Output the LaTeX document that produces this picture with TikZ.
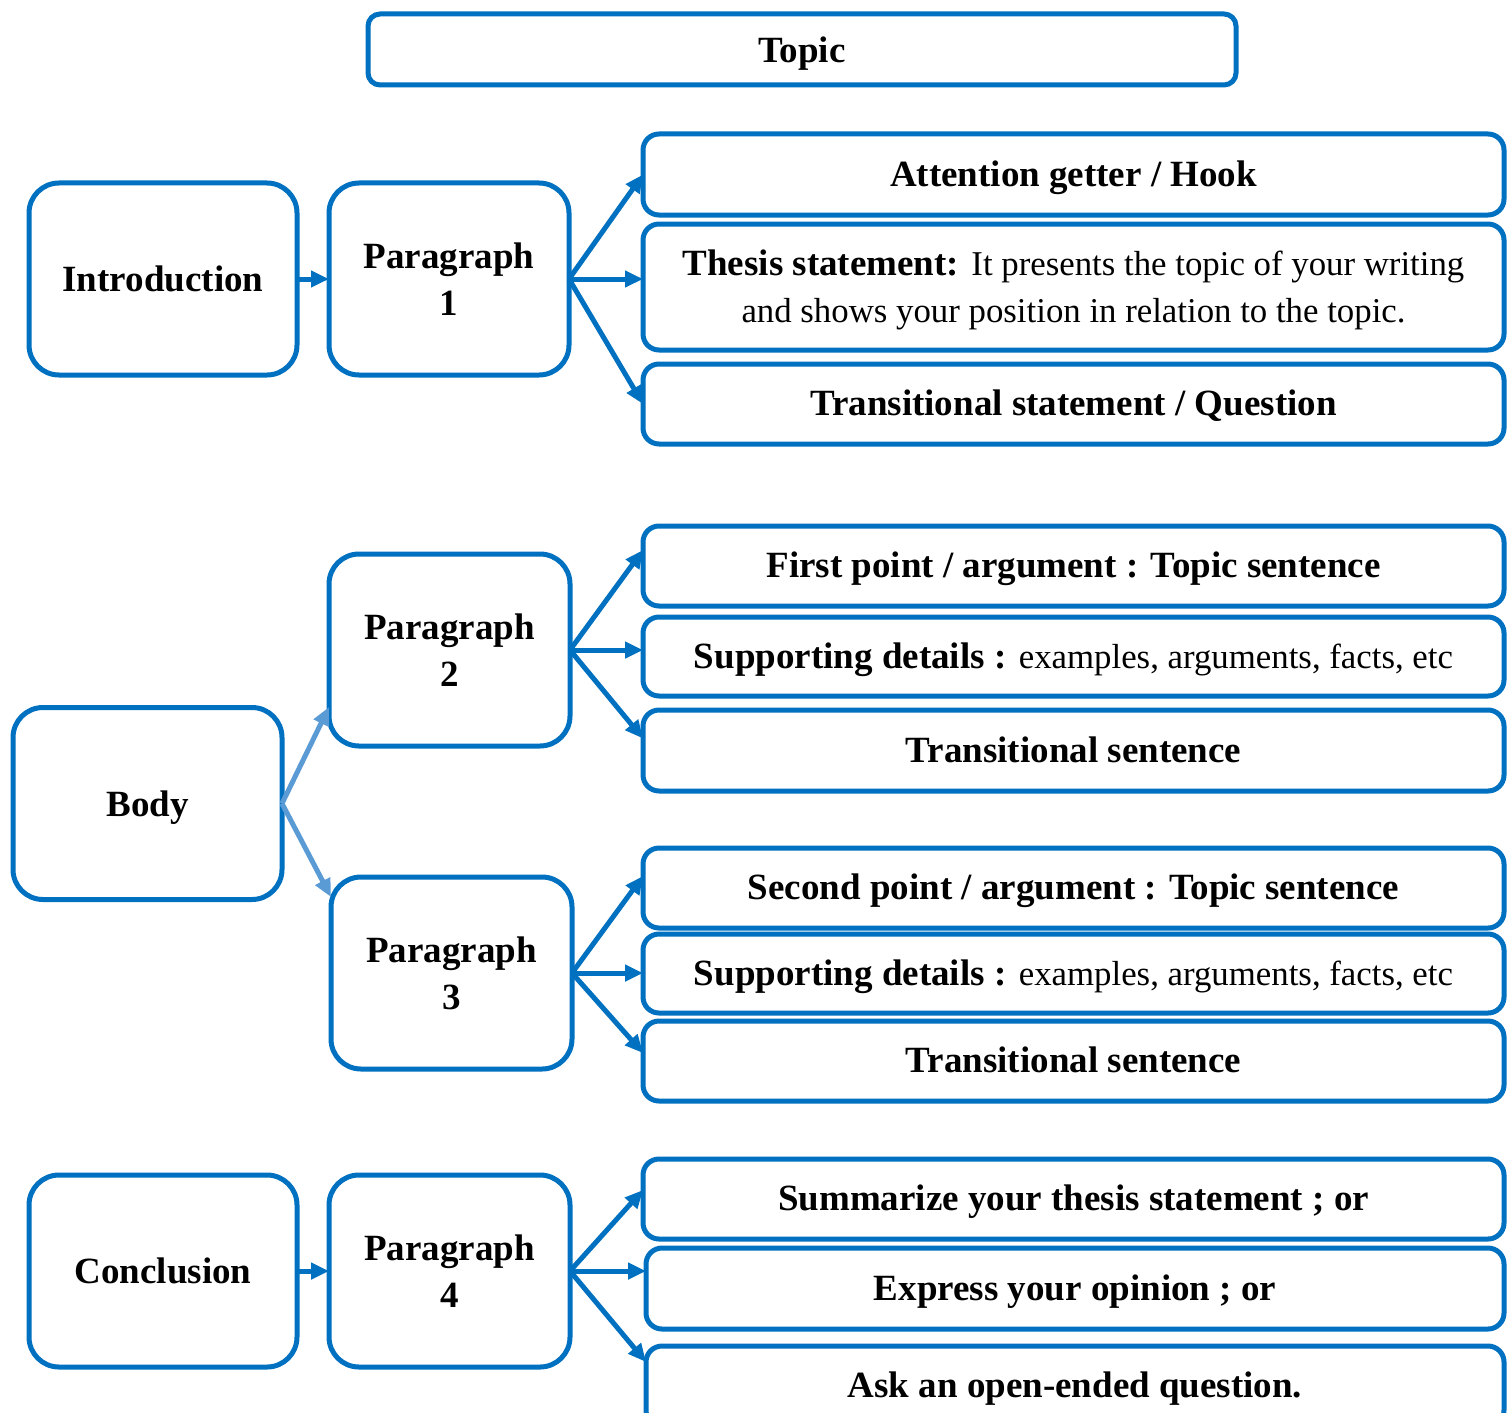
\documentclass[tikz,border=0pt]{standalone}
\usepackage{fontspec}
\setmainfont{Liberation Serif}
\usetikzlibrary{arrows.meta,calc}
\definecolor{mblue}{HTML}{0070C0}
\definecolor{lblue}{HTML}{5B9BD5}
\newcommand{\rg}[1]{{\fontsize{17.4pt}{23.5pt}\selectfont\mdseries #1}}
\begin{document}
\begin{tikzpicture}[x=0.5pt,y=-0.5pt,
  every node/.style={inner sep=0pt,outer sep=0pt},
  base/.style={draw=mblue,line width=2.5pt,fill=white,align=center,
    font=\fontsize{18.5pt}{23.5pt}\selectfont\bfseries,text depth=1pt},
  bigbox/.style={base,rounded corners=15pt,minimum width=#1*0.5pt,minimum height=96pt,text depth=-4pt},
  longbox/.style={base,rounded corners=8pt,minimum width=430.5pt,minimum height=#1*0.5pt},
  arr/.style={draw=mblue,line width=2.5pt,-{Triangle[length=9pt,width=8pt]}},
  larr/.style={draw=lblue,line width=2.5pt,-{Triangle[length=9pt,width=8pt]}}]
\useasboundingbox (0,0) rectangle (1507,1412);
\clip (0,0) rectangle (1507,1412);
% title
\node[base,rounded corners=6pt,minimum width=434pt,minimum height=35.5pt,text depth=-2pt] (topic) at (802,49.5) {Topic};
% introduction
\node[bigbox=268] (intro) at (163,279) {Introduction};
\node[bigbox=240] (p1) at (449,279) {Paragraph\\1};
\node[longbox=81] (a1) at (1073.5,174.5) {Attention getter / Hook};
\node[longbox=126] (a2) at (1073.5,287) {Thesis statement: \rg{It presents the topic of your writing}\\\rg{and shows your position in relation to the topic.}};
\node[longbox=80] (a3) at (1073.5,404) {Transitional statement / Question};
% body
\node[bigbox=269] (body) at (147.5,803.5) {Body};
\node[bigbox=241] (p2) at (449.5,650) {Paragraph\\2};
\node[bigbox=241] (p3) at (451.5,973) {Paragraph\\3};
\node[longbox=80] (b1) at (1073.5,566) {First point / argument : Topic sentence};
\node[longbox=79] (b2) at (1073.5,656.5) {Supporting details : \rg{examples, arguments, facts, etc}};
\node[longbox=81] (b3) at (1073.5,750.5) {Transitional sentence};
\node[longbox=80] (c1) at (1073.5,888) {Second point / argument : Topic sentence};
\node[longbox=79] (c2) at (1073.5,973.5) {Supporting details : \rg{examples, arguments, facts, etc}};
\node[longbox=80] (c3) at (1073.5,1061) {Transitional sentence};
% conclusion
\node[bigbox=268] (concl) at (163,1271) {Conclusion};
\node[bigbox=241] (p4) at (449.5,1271) {Paragraph\\4};
\node[longbox=80] (d1) at (1073.5,1199) {Summarize your thesis statement ; or};
\node[base,rounded corners=8pt,minimum width=429pt,minimum height=40.5pt] (d2) at (1075,1288.5) {Express your opinion ; or};
\node[base,rounded corners=8pt,minimum width=429pt,minimum height=40pt] (d3) at (1075,1386) {Ask an open-ended question.};
% arrows
\draw[arr] (intro.east) -- (p1.west);
\draw[arr] (p1.east) -- (a1.west);
\draw[arr] (p1.east) -- (a2.west|-p1.east);
\draw[arr] (p1.east) -- (a3.west);
\draw[larr] (body.east) -- ($(p2.west)+(0,57)$);
\draw[larr] (body.east) -- ($(p3.west)+(0,-76)$);
\draw[arr] (p2.east) -- ($(b1.west)+(0,-16)$);
\draw[arr] (p2.east) -- (b2.west|-p2.east);
\draw[arr] (p2.east) -- ($(b3.west)+(0,-12)$);
\draw[arr] (p3.east) -- ($(c1.west)+(0,-12)$);
\draw[arr] (p3.east) -- (c2.west|-p3.east);
\draw[arr] (p3.east) -- ($(c3.west)+(0,-8)$);
\draw[arr] (concl.east) -- (p4.west);
\draw[arr] (p4.east) -- ($(d1.west)+(0,-9)$);
\draw[arr] (p4.east) -- (d2.west|-p4.east);
\draw[arr] (p4.east) -- ($(d3.west)+(0,-24)$);
\end{tikzpicture}
\end{document}
